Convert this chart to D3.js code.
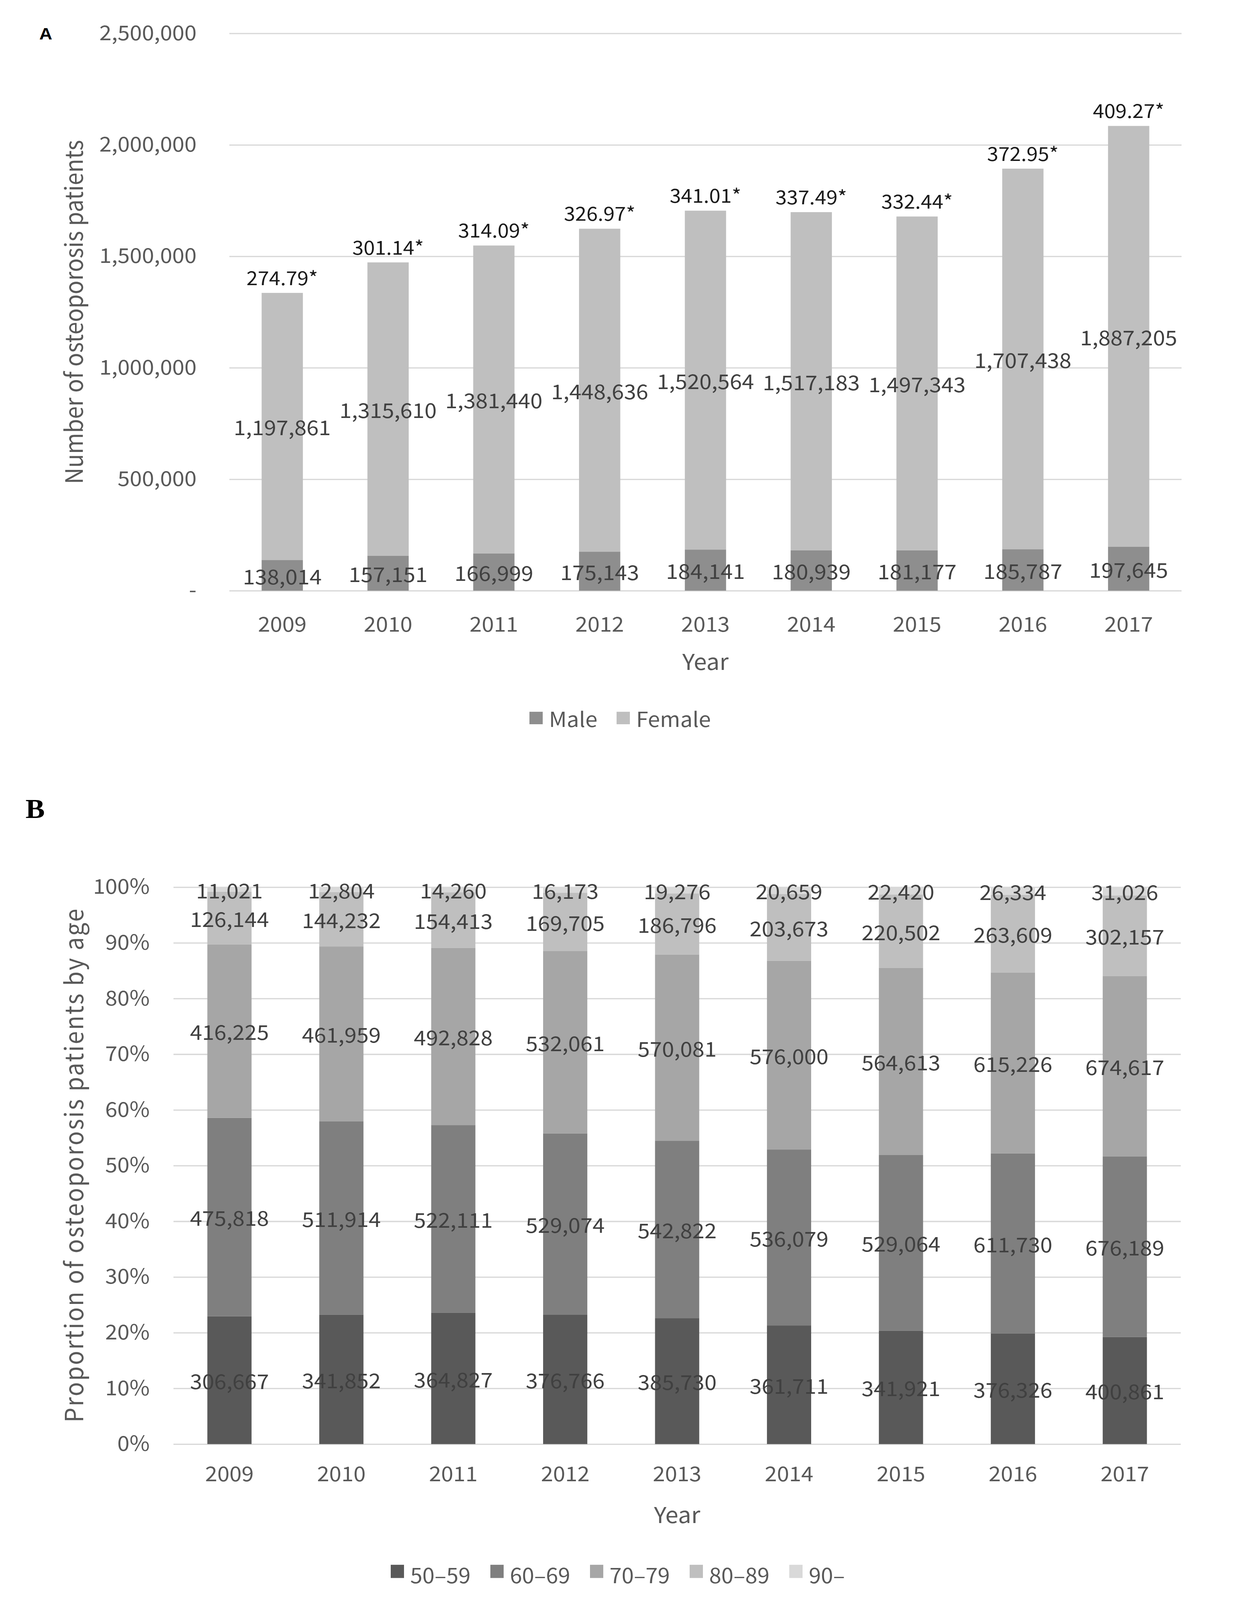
<!DOCTYPE html>
<html>
<head>
<meta charset="utf-8">
<script src="https://cdn.jsdelivr.net/npm/d3@7"></script>
<style>
  html, body { margin: 0; padding: 0; background: #fff; overflow: hidden; }
  svg { display: block; width: 100vw; height: 100vh; }
  svg text { font-family: "Noto Sans CJK KR", "Noto Sans", sans-serif; }
</style>
</head>
<body>
<!-- drawn in 3171x4361 units, squeezed into whatever viewport we get -->
<svg id="chart" viewBox="0 0 3171 4361" preserveAspectRatio="none"></svg>
<script>
// Data
const years = ["2009", "2010", "2011", "2012", "2013", "2014", "2015", "2016", "2017"];

const male   = [138014, 157151, 166999, 175143, 184141, 180939, 181177, 185787, 197645];
const female = [1197861, 1315610, 1381440, 1448636, 1520564, 1517183, 1497343, 1707438, 1887205];
const rates  = ["274.79*", "301.14*", "314.09*", "326.97*", "341.01*", "337.49*", "332.44*", "372.95*", "409.27*"];
const ticksA = [0, 500000, 1000000, 1500000, 2000000, 2500000];

const ageGroups = ["50–59", "60–69", "70–79", "80–89", "90–"];
const age50 = [306667, 341852, 364827, 376766, 385730, 361711, 341921, 376326, 400861];
const age60 = [475818, 511914, 522111, 529074, 542822, 536079, 529064, 611730, 676189];
const age70 = [416225, 461959, 492828, 532061, 570081, 576000, 564613, 615226, 674617];
const age80 = [126144, 144232, 154413, 169705, 186796, 203673, 220502, 263609, 302157];
const age90 = [11021, 12804, 14260, 16173, 19276, 20659, 22420, 26334, 31026];
const ticksB = [0, 0.1, 0.2, 0.3, 0.4, 0.5, 0.6, 0.7, 0.8, 0.9, 1];

const sexColors = ["#8e8e8e", "#bfbfbf"];
const ageColors = ["#595959", "#7f7f7f", "#a6a6a6", "#bfbfbf", "#d9d9d9"];

const FONT = 56;
const svg = d3.select("#chart");
const fmt = d3.format(",");

// grid + axes helper
function drawAxes(g, x, y, ticks, tickFmt, padY, padX, left, width) {
  let ya = g.append("g")
    .attr("transform", "translate(" + left + ",0)")
    .call(d3.axisLeft(y).tickValues(ticks).tickFormat(tickFmt)
      .tickSize(-width).tickPadding(padY));
  ya.select(".domain").remove();
  ya.selectAll("line").attr("stroke", "#d9d9d9").attr("stroke-width", 3.5);
  ya.selectAll("text").attr("fill", "#595959").style("font-size", FONT + "px");

  let xa = g.append("g")
    .attr("transform", "translate(0," + y.range()[0] + ")")
    .call(d3.axisBottom(x).tickSize(0).tickPadding(padX));
  xa.select(".domain").remove();
  xa.selectAll("text").attr("fill", "#595959").style("font-size", FONT + "px");
}

// ---------- Panel A ----------
{
  const left = 587, right = 3024, top = 91, bottom = 1610;
  const x = d3.scaleBand().domain(years).range([left, right])
    .paddingInner(0.61).paddingOuter(0.305);
  const y = d3.scaleLinear().domain([0, 2500000]).range([bottom, top]);
  const g = svg.append("g");

  drawAxes(g, x, y, ticksA, d => d === 0 ? "-" : fmt(d), 84, 72, left, right - left);

  const rows = years.map((yr, i) => ({ year: yr, Male: male[i], Female: female[i] }));
  const series = d3.stack().keys(["Male", "Female"])(rows);

  const layers = g.selectAll(".layerA").data(series).join("g")
    .attr("fill", (d, i) => sexColors[i]);

  layers.selectAll("rect").data(d => d).join("rect")
    .attr("x", d => x(d.data.year))
    .attr("width", x.bandwidth())
    .attr("y", d => y(d[1]))
    .attr("height", d => y(d[0]) - y(d[1]));

  layers.selectAll("text").data(d => d).join("text")
    .attr("x", d => x(d.data.year) + x.bandwidth() / 2)
    .attr("y", d => (y(d[0]) + y(d[1])) / 2)
    .attr("text-anchor", "middle")
    .attr("dominant-baseline", "central")
    .attr("fill", "#404040")
    .style("font-size", FONT + "px")
    .text(d => fmt(d[1] - d[0]));

  g.selectAll(".rate").data(rows).join("text")
    .attr("x", d => x(d.year) + x.bandwidth() / 2)
    .attr("y", d => y(d.Male + d.Female) - 44)
    .attr("text-anchor", "middle")
    .attr("dominant-baseline", "central")
    .attr("fill", "#1a1a1a")
    .style("font-size", "52px")
    .text((d, i) => rates[i]);

  // titles
  g.append("text")
    .attr("transform", "translate(185," + ((top + bottom) / 2) + ") rotate(-90)")
    .attr("text-anchor", "middle").attr("dominant-baseline", "central")
    .attr("fill", "#595959").style("font-size", "62px")
    .attr("textLength", 938).attr("lengthAdjust", "spacing")
    .text("Number of osteoporosis patients");
  g.append("text")
    .attr("x", (left + right) / 2).attr("y", 1800)
    .attr("text-anchor", "middle").attr("dominant-baseline", "central")
    .attr("fill", "#595959").style("font-size", "60px")
    .text("Year");
  g.append("text")
    .attr("x", 117).attr("y", 92)
    .attr("text-anchor", "middle").attr("dominant-baseline", "central")
    .attr("fill", "#000").style("font-size", "46px").style("font-weight", "bold")
    .style("font-family", "'Liberation Sans', Arial, sans-serif")
    .text("A");

  // legend
  const leg = g.selectAll(".legA").data(["Male", "Female"]).join("g")
    .attr("transform", (d, i) => "translate(" + [1355, 1578][i] + ",1957)");
  leg.append("rect").attr("x", 0).attr("y", -17).attr("width", 34).attr("height", 34)
    .attr("fill", (d, i) => sexColors[i]);
  leg.append("text").attr("x", 50).attr("y", 0)
    .attr("dominant-baseline", "central")
    .attr("fill", "#595959").style("font-size", FONT + "px")
    .text(d => d);
}

// ---------- Panel B ----------
{
  const left = 444, right = 3022, top = 2418, bottom = 3936;
  const x = d3.scaleBand().domain(years).range([left, right])
    .paddingInner(0.605).paddingOuter(0.3025);
  const y = d3.scaleLinear().domain([0, 1]).range([bottom, top]);
  const g = svg.append("g");

  drawAxes(g, x, y, ticksB, d3.format(".0%"), 61, 62, left, right - left);

  const cols = [age50, age60, age70, age80, age90];
  const rows = years.map((yr, i) => {
    const r = { year: yr };
    ageGroups.forEach((a, j) => r[a] = cols[j][i]);
    return r;
  });
  const series = d3.stack().keys(ageGroups).offset(d3.stackOffsetExpand)(rows);

  const layers = g.selectAll(".layerB").data(series).join("g")
    .attr("fill", (d, i) => ageColors[i]);

  layers.selectAll("rect").data(d => d).join("rect")
    .attr("x", d => x(d.data.year))
    .attr("width", x.bandwidth())
    .attr("y", d => y(d[1]))
    .attr("height", d => y(d[0]) - y(d[1]));

  layers.selectAll("text").data(d => d.map(v => ({ v: v, key: d.key }))).join("text")
    .attr("x", d => x(d.v.data.year) + x.bandwidth() / 2)
    .attr("y", d => (y(d.v[0]) + y(d.v[1])) / 2)
    .attr("text-anchor", "middle")
    .attr("dominant-baseline", "central")
    .attr("fill", "#404040")
    .style("font-size", FONT + "px")
    .text(d => fmt(d.v.data[d.key]));

  g.append("text")
    .attr("transform", "translate(185," + ((top + bottom) / 2) + ") rotate(-90)")
    .attr("text-anchor", "middle").attr("dominant-baseline", "central")
    .attr("fill", "#595959").style("font-size", "64px")
    .attr("textLength", 1400).attr("lengthAdjust", "spacing")
    .text("Proportion of osteoporosis patients by age");
  g.append("text")
    .attr("x", (left + right) / 2).attr("y", 4125)
    .attr("text-anchor", "middle").attr("dominant-baseline", "central")
    .attr("fill", "#595959").style("font-size", "60px")
    .text("Year");
  g.append("text")
    .attr("x", 90).attr("y", 2205)
    .attr("text-anchor", "middle").attr("dominant-baseline", "central")
    .attr("fill", "#000").style("font-size", "74px").style("font-weight", "bold")
    .style("font-family", "'Liberation Serif', 'Times New Roman', serif")
    .text("B");

  const leg = g.selectAll(".legB").data(ageGroups).join("g")
    .attr("transform", (d, i) => "translate(" + (1000 + i * 255) + ",4283)");
  leg.append("rect").attr("x", 0).attr("y", -18).attr("width", 34).attr("height", 36)
    .attr("fill", (d, i) => ageColors[i]);
  leg.append("text").attr("x", 50).attr("y", 8)
    .attr("dominant-baseline", "central")
    .attr("fill", "#595959").style("font-size", FONT + "px")
    .text(d => d);
}
</script>
</body>
</html>
